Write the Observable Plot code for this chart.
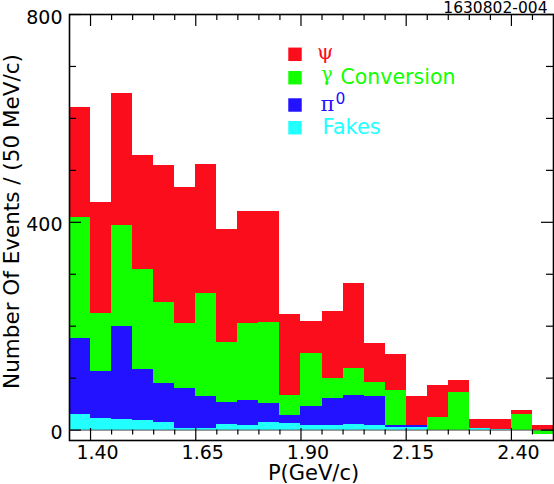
<!DOCTYPE html>
<html><head><meta charset="utf-8">
<script src="https://cdn.jsdelivr.net/npm/d3@7"></script>
<script src="https://cdn.jsdelivr.net/npm/@observablehq/plot@0.6"></script>
<style>body{margin:0;background:#fff}</style>
</head><body><div id="chart"></div>
<script>
// Bin lower edges (GeV/c), 50 MeV/c bins
const binStart = [1.35,1.40,1.45,1.50,1.55,1.60,1.65,1.70,1.75,1.80,1.85,1.90,1.95,2.00,2.05,2.10,2.15,2.20,2.25,2.30,2.35,2.40,2.45];
const binWidth = 0.05;
// Component counts per bin
const psi        = [212,214,254,219,263,262,249,217,215,213,156, 63,129,164, 75, 69, 57, 62, 23, 17, 18,  6, 17];
const conversion = [232,111,195,192,156,125,197,116,148,155, 39,102, 39, 51, 27, 68,  0, 24, 72,  0,  0, 31, -8];
const pi0        = [146, 90,179, 99, 75, 76, 61, 43, 49, 38, 16, 37, 51, 56, 56,  4,  3,  0,  0,  0,  0,  0,  0];
const fakes      = [ 31, 23, 20, 18, 15,  4,  4, 10,  8, 14, 12,  8,  9, 11,  9,  5,  5,  0,  0,  3,  2,  0,  0];

const xTicksMajor = [1.40,1.65,1.90,2.15,2.40];
const xTickLabels = ["1.40","1.65","1.90","2.15","2.40"];
const xTicksMinor = [1.45,1.50,1.55,1.60,1.70,1.75,1.80,1.85,1.95,2.00,2.05,2.10,2.20,2.25,2.30,2.35,2.45];
const yTicksMajor = [0,400,800];
const yTickLabels = ["0","400","800"];
const yTicksMinor = [100,200,300,500,600,700];

const seriesNames = ["ψ","γ Conversion","π0","Fakes"];
const colors = {psi:"#fb0d1c", conv:"#12ff00", pi0:"#2212ff", fakes:"#22ffff"};

const rows = binStart.map((x, i) => {
  const f = fakes[i], p = f + pi0[i], c = p + conversion[i], s = c + psi[i];
  return {x1: x, x2: +(x + binWidth).toFixed(2), fakes: f, pi0: p, conv: c, psi: s};
});

const W = 554, H = 484, mL = 69, mR = 1, mT = 14, mB = 44;
const plotH = H - mT - mB, plotW = W - mL - mR;

const bars = (key) => Plot.rectY(rows, {x1: "x1", x2: "x2", y1: () => 0, y2: key, fill: colors[key], shapeRendering: "crispEdges"});

const legendSquare = (dy, fill) => Plot.dot([0], {frameAnchor: "top-left", dx: 225.5, dy, symbol: "square", r: 7.6, fill});
const legendText = (t, dx, dy, fill, fontSize, fontFamily) =>
  Plot.text([t], {text: d => d, frameAnchor: "top-left", dx, dy, fill, fontSize, fontFamily, textAnchor: "start", lineAnchor: "bottom"});

const chart = Plot.plot({
  width: W, height: H,
  marginLeft: mL, marginRight: mR, marginTop: mT, marginBottom: mB,
  style: {fontFamily: "DejaVu Sans", background: "white", overflow: "visible"},
  x: {domain: [1.35, 2.50], axis: null},
  y: {domain: [-20, 800], axis: null},
  marks: [
    bars("psi"), bars("conv"), bars("pi0"), bars("fakes"),
    Plot.ruleY([0], {stroke: "#555", strokeWidth: 1}),
    // top ticks
    Plot.ruleX(xTicksMajor, {x: d => d, insetBottom: plotH - 12, stroke: "black", strokeWidth: 1.2}),
    Plot.ruleX(xTicksMinor, {x: d => d, insetBottom: plotH - 6, stroke: "black", strokeWidth: 1.2}),
    // bottom ticks
    Plot.ruleX(xTicksMajor, {x: d => d, insetTop: plotH - 12, stroke: "black", strokeWidth: 1.2}),
    Plot.ruleX(xTicksMinor, {x: d => d, insetTop: plotH - 10.5, insetBottom: 5.5, stroke: "black", strokeWidth: 1.2}),
    // left / right ticks
    Plot.ruleY(yTicksMajor, {y: d => d, insetRight: plotW - 12, stroke: "black", strokeWidth: 1.2}),
    Plot.ruleY(yTicksMinor, {y: d => d, insetRight: plotW - 7, stroke: "black", strokeWidth: 1.2}),
    Plot.ruleY(yTicksMajor, {y: d => d, insetLeft: plotW - 12, stroke: "black", strokeWidth: 1.2}),
    Plot.ruleY(yTicksMinor, {y: d => d, insetLeft: plotW - 7, stroke: "black", strokeWidth: 1.2}),
    Plot.frame({stroke: "black", strokeWidth: 1.6}),
    // tick labels
    Plot.text(xTicksMajor, {x: d => d, text: (d, i) => xTickLabels[i], frameAnchor: "bottom", dy: 12, dx: 7, fontSize: 19, textAnchor: "middle", lineAnchor: "middle", fill: "black"}),
    Plot.text(yTicksMajor, {y: d => d, text: (d, i) => yTickLabels[i], frameAnchor: "left", dx: -7, dy: 3, fontSize: 19, textAnchor: "end", lineAnchor: "middle", fill: "black"}),
    // axis titles
    Plot.text(["P(GeV/c)"], {text: d => d, frameAnchor: "bottom", dx: 2, dy: 33, fontSize: 21, textAnchor: "middle", lineAnchor: "middle", fill: "black"}),
    Plot.text(["Number Of Events / (50 MeV/c)"], {text: d => d, frameAnchor: "left", dx: -57, dy: -6, rotate: -90, fontSize: 21.5, textAnchor: "middle", lineAnchor: "middle", fill: "black"}),
    Plot.text(["1630802-004"], {text: d => d, frameAnchor: "top-right", dx: -6, dy: -1.5, fontSize: 15.5, textAnchor: "end", lineAnchor: "bottom", fill: "black"}),
    // legend
    legendSquare(39.8, colors.psi),
    legendSquare(63.2, colors.conv),
    legendSquare(90.5, colors.pi0),
    legendSquare(113.2, colors.fakes),
    legendText("ψ", 247.5, 44.5, colors.psi, 21, "DejaVu Serif"),
    legendText("γ", 251.5, 66.5, colors.conv, 19.5, "DejaVu Serif"),
    legendText("Conversion", 271, 69.3, colors.conv, 20.5, "DejaVu Sans"),
    legendText("π", 251, 96, colors.pi0, 21, "DejaVu Serif"),
    legendText("0", 266, 89, colors.pi0, 15.5, "DejaVu Sans"),
    legendText("Fakes", 253, 119.3, colors.fakes, 21, "DejaVu Sans")
  ]
});
document.getElementById("chart").appendChild(chart);
</script>
</body></html>
